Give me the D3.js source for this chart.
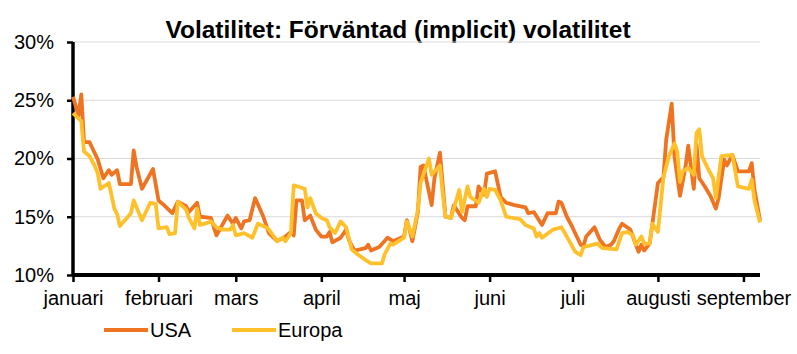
<!DOCTYPE html>
<html>
<head>
<meta charset="utf-8">
<script src="https://cdn.jsdelivr.net/npm/d3@7"></script>
<style>
  body { margin: 0; background: #fff; }
  text { font-family: "Liberation Sans", Arial, sans-serif; }
</style>
</head>
<body>
<script>
// Global consts
var w = 797;
var h = 354;
var title = "Volatilitet: Förväntad (implicit) volatilitet";
var parseDate = d3.timeParse("%Y-%m-%d");

// tick labels
var months = ["januari", "februari", "mars", "april", "maj", "juni", "juli", "augusti", "september"];
var yTicks = [10, 15, 20, 25, 30];
var seriesNames = ["USA", "Europa"];

// implied volatility, %
var usa = [
    ["2011-01-01", 25.3], ["2011-01-03", 23.7], ["2011-01-04", 25.5], ["2011-01-05", 21.4],
    ["2011-01-07", 21.4], ["2011-01-10", 19.9], ["2011-01-12", 18.3], ["2011-01-14", 19.0],
    ["2011-01-15", 18.6], ["2011-01-17", 19.0], ["2011-01-18", 17.8], ["2011-01-22", 17.8],
    ["2011-01-23", 20.7], ["2011-01-24", 19.3], ["2011-01-26", 17.4], ["2011-01-30", 19.1],
    ["2011-02-01", 16.4], ["2011-02-03", 16.0], ["2011-02-06", 15.3], ["2011-02-08", 16.3],
    ["2011-02-11", 15.9], ["2011-02-12", 15.4], ["2011-02-15", 16.2], ["2011-02-16", 15.0],
    ["2011-02-20", 14.9], ["2011-02-22", 13.4], ["2011-02-26", 15.1], ["2011-02-28", 14.4],
    ["2011-03-01", 14.9], ["2011-03-03", 14.0], ["2011-03-04", 14.6], ["2011-03-06", 14.7],
    ["2011-03-08", 16.6], ["2011-03-11", 15.0], ["2011-03-13", 13.6], ["2011-03-16", 12.9],
    ["2011-03-19", 13.3], ["2011-03-21", 13.7], ["2011-03-22", 13.4], ["2011-03-23", 16.4],
    ["2011-03-25", 16.4], ["2011-03-26", 14.7], ["2011-03-28", 15.1], ["2011-03-30", 13.9],
    ["2011-04-01", 13.3], ["2011-04-03", 13.3], ["2011-04-04", 13.7], ["2011-04-05", 12.8],
    ["2011-04-08", 13.2], ["2011-04-10", 13.9], ["2011-04-11", 13.0], ["2011-04-13", 12.1],
    ["2011-04-17", 12.3], ["2011-04-18", 12.6], ["2011-04-19", 12.1], ["2011-04-22", 12.4],
    ["2011-04-25", 13.2], ["2011-04-27", 12.9], ["2011-05-01", 13.3], ["2011-05-02", 14.7],
    ["2011-05-03", 13.9], ["2011-05-04", 12.9], ["2011-05-06", 15.4], ["2011-05-07", 19.3],
    ["2011-05-08", 19.4], ["2011-05-11", 16.0], ["2011-05-12", 18.3], ["2011-05-14", 20.5],
    ["2011-05-16", 15.0], ["2011-05-18", 14.9], ["2011-05-19", 16.0], ["2011-05-22", 14.9],
    ["2011-05-23", 14.7], ["2011-05-24", 15.9], ["2011-05-27", 15.9], ["2011-05-28", 17.6],
    ["2011-05-30", 16.9], ["2011-05-31", 18.7], ["2011-06-03", 18.9], ["2011-06-05", 16.7],
    ["2011-06-07", 16.2], ["2011-06-10", 16.0], ["2011-06-14", 15.8], ["2011-06-15", 15.3],
    ["2011-06-17", 15.4], ["2011-06-20", 14.3], ["2011-06-22", 15.3], ["2011-06-25", 15.3],
    ["2011-06-26", 16.3], ["2011-06-27", 16.2], ["2011-06-29", 15.0], ["2011-07-01", 14.1],
    ["2011-07-04", 12.6], ["2011-07-05", 12.5], ["2011-07-06", 13.3], ["2011-07-09", 14.1],
    ["2011-07-11", 13.0], ["2011-07-13", 12.4], ["2011-07-15", 12.6], ["2011-07-16", 12.9],
    ["2011-07-18", 14.0], ["2011-07-19", 14.4], ["2011-07-22", 13.9], ["2011-07-24", 12.6],
    ["2011-07-25", 12.0], ["2011-07-26", 12.6], ["2011-07-27", 12.1], ["2011-07-29", 12.7],
    ["2011-07-30", 14.4], ["2011-08-01", 17.9], ["2011-08-03", 18.4], ["2011-08-04", 21.6],
    ["2011-08-06", 24.7], ["2011-08-07", 20.2], ["2011-08-09", 16.8], ["2011-08-11", 19.3],
    ["2011-08-12", 21.1], ["2011-08-14", 17.4], ["2011-08-15", 21.2], ["2011-08-16", 18.3],
    ["2011-08-18", 17.6], ["2011-08-20", 16.8], ["2011-08-22", 15.7], ["2011-08-23", 16.6],
    ["2011-08-25", 19.9], ["2011-08-26", 19.4], ["2011-08-28", 20.3], ["2011-08-30", 18.9],
    ["2011-09-03", 18.9], ["2011-09-04", 19.6], ["2011-09-05", 17.3], ["2011-09-07", 14.7]
];

var europa = [
    ["2011-01-01", 23.9], ["2011-01-04", 23.2], ["2011-01-05", 20.6], ["2011-01-07", 20.2],
    ["2011-01-09", 19.3], ["2011-01-10", 18.7], ["2011-01-11", 17.4], ["2011-01-14", 17.9],
    ["2011-01-16", 15.7], ["2011-01-17", 15.2], ["2011-01-18", 14.2], ["2011-01-22", 15.3],
    ["2011-01-23", 16.4], ["2011-01-26", 14.7], ["2011-01-29", 16.2], ["2011-01-31", 16.1],
    ["2011-02-01", 14.0], ["2011-02-04", 14.1], ["2011-02-05", 13.5], ["2011-02-07", 13.6],
    ["2011-02-08", 16.3], ["2011-02-11", 15.6], ["2011-02-12", 14.9], ["2011-02-14", 14.0],
    ["2011-02-15", 15.7], ["2011-02-16", 14.3], ["2011-02-19", 14.5], ["2011-02-20", 14.6],
    ["2011-02-22", 14.1], ["2011-02-24", 13.9], ["2011-02-27", 13.9], ["2011-02-28", 14.3],
    ["2011-03-01", 13.4], ["2011-03-04", 13.6], ["2011-03-07", 13.2], ["2011-03-09", 14.4],
    ["2011-03-12", 14.1], ["2011-03-13", 13.9], ["2011-03-16", 12.9], ["2011-03-18", 13.2],
    ["2011-03-19", 12.9], ["2011-03-21", 13.6], ["2011-03-22", 17.7], ["2011-03-26", 17.4],
    ["2011-03-27", 15.8], ["2011-03-28", 16.6], ["2011-03-30", 15.3], ["2011-04-01", 14.9],
    ["2011-04-03", 14.7], ["2011-04-04", 14.1], ["2011-04-06", 13.6], ["2011-04-08", 14.6],
    ["2011-04-10", 14.1], ["2011-04-12", 12.2], ["2011-04-14", 11.8], ["2011-04-17", 11.3],
    ["2011-04-19", 11.0], ["2011-04-23", 11.0], ["2011-04-24", 11.8], ["2011-04-26", 12.7],
    ["2011-04-27", 12.6], ["2011-05-01", 13.2], ["2011-05-02", 14.6], ["2011-05-04", 13.3],
    ["2011-05-06", 15.6], ["2011-05-07", 17.9], ["2011-05-10", 20.0], ["2011-05-11", 18.6],
    ["2011-05-14", 19.4], ["2011-05-15", 17.0], ["2011-05-16", 15.0], ["2011-05-18", 14.9],
    ["2011-05-21", 17.3], ["2011-05-22", 15.4], ["2011-05-24", 17.6], ["2011-05-25", 16.7],
    ["2011-05-28", 16.2], ["2011-05-30", 17.4], ["2011-05-31", 16.7], ["2011-06-01", 17.4],
    ["2011-06-03", 17.3], ["2011-06-05", 16.4], ["2011-06-07", 15.0], ["2011-06-12", 14.8],
    ["2011-06-14", 14.3], ["2011-06-17", 14.0], ["2011-06-18", 13.3], ["2011-06-19", 13.6],
    ["2011-06-20", 13.2], ["2011-06-24", 13.9], ["2011-06-27", 14.1], ["2011-06-29", 13.3],
    ["2011-07-02", 12.0], ["2011-07-04", 11.7], ["2011-07-05", 12.4], ["2011-07-10", 12.7],
    ["2011-07-12", 12.3], ["2011-07-17", 12.2], ["2011-07-19", 13.6], ["2011-07-21", 13.7],
    ["2011-07-23", 13.4], ["2011-07-24", 12.6], ["2011-07-26", 13.3], ["2011-07-27", 12.7],
    ["2011-07-29", 12.7], ["2011-07-30", 14.4], ["2011-08-01", 13.7], ["2011-08-03", 18.4],
    ["2011-08-05", 20.2], ["2011-08-07", 21.3], ["2011-08-08", 20.6], ["2011-08-09", 18.0],
    ["2011-08-10", 18.9], ["2011-08-12", 19.2], ["2011-08-14", 18.6], ["2011-08-15", 22.2],
    ["2011-08-16", 22.5], ["2011-08-17", 20.2], ["2011-08-19", 19.2], ["2011-08-21", 18.3],
    ["2011-08-22", 16.6], ["2011-08-24", 20.2], ["2011-08-28", 20.3], ["2011-08-30", 17.6],
    ["2011-09-03", 17.4], ["2011-09-04", 18.2], ["2011-09-05", 16.4], ["2011-09-07", 14.5]
];

var colors = ["#EF7422", "#FFC12B"];

var svg = d3.select("body").append("svg")
    .attr("width", w)
    .attr("height", h);

var margin = {left: 73, right: 37, top: 42, bottom: 79};

var x = d3.scaleTime()
    .domain([parseDate(usa[0][0]), parseDate(usa[usa.length - 1][0])])
    .range([margin.left, w - margin.right]);

var y = d3.scaleLinear()
    .domain([10, 30])
    .range([h - margin.bottom, margin.top]);

// title
svg.append("text")
    .attr("x", 398)
    .attr("y", 38)
    .attr("text-anchor", "middle")
    .attr("font-weight", "bold")
    .attr("font-size", "24.5px")
    .text(title);

// gridlines
svg.append("g")
    .selectAll("line")
    .data(yTicks.slice(1))
    .enter().append("line")
    .attr("x1", margin.left)
    .attr("x2", w - margin.right)
    .attr("y1", function (d) { return y(d); })
    .attr("y2", function (d) { return y(d); })
    .style("stroke", "#D9D9D9")
    .style("stroke-width", 1);

// y axis
var yAxis = svg.append("g")
    .attr("transform", "translate(" + margin.left + ",0)")
    .call(d3.axisLeft(y).tickValues(yTicks).tickSize(6).tickPadding(13)
        .tickFormat(function (d) { return d + "%"; }));
yAxis.select(".domain").attr("stroke-width", 3.5).attr("d", "M0," + y(10) + "V" + y(30));
yAxis.selectAll(".tick line").attr("stroke-width", 2.5);
yAxis.selectAll(".tick text")
    .attr("font-size", "20px")
    .attr("fill", "#000")
    .style("font-family", "Liberation Sans, Arial, sans-serif");

// x axis with month ticks
var monthStarts = months.map(function (m, i) { return new Date(2011, i, 1); });
var xAxis = svg.append("g")
    .attr("transform", "translate(0," + y(10) + ")")
    .call(d3.axisBottom(x).tickValues(monthStarts).tickSize(7).tickPadding(9)
        .tickFormat(function (d, i) { return months[i]; }));
xAxis.select(".domain").attr("stroke-width", 4).attr("d", "M" + x.range()[0] + ",0H" + x.range()[1]);
xAxis.selectAll(".tick line").attr("stroke-width", 2.5);
xAxis.selectAll(".tick text")
    .attr("font-size", "20px")
    .attr("fill", "#000")
    .style("font-family", "Liberation Sans, Arial, sans-serif");

// lines
var line = d3.line()
    .x(function (d) { return x(parseDate(d[0])); })
    .y(function (d) { return y(d[1]); });

[usa, europa].forEach(function (s, i) {
    svg.append("path")
        .datum(s)
        .attr("d", line)
        .attr("fill", "none")
        .attr("stroke", colors[i])
        .attr("stroke-width", 3.8)
        .attr("stroke-linejoin", "round");
});

// legend
var legendX = [104, 232];
seriesNames.forEach(function (name, i) {
    var g = svg.append("g").attr("transform", "translate(" + legendX[i] + ",330)");
    g.append("line")
        .attr("x1", 0).attr("x2", 44)
        .attr("y1", 0).attr("y2", 0)
        .attr("stroke", colors[i])
        .attr("stroke-width", 4);
    g.append("text")
        .attr("x", 46)
        .attr("y", 7)
        .attr("font-size", "20px")
        .text(name);
});
</script>
</body>
</html>
